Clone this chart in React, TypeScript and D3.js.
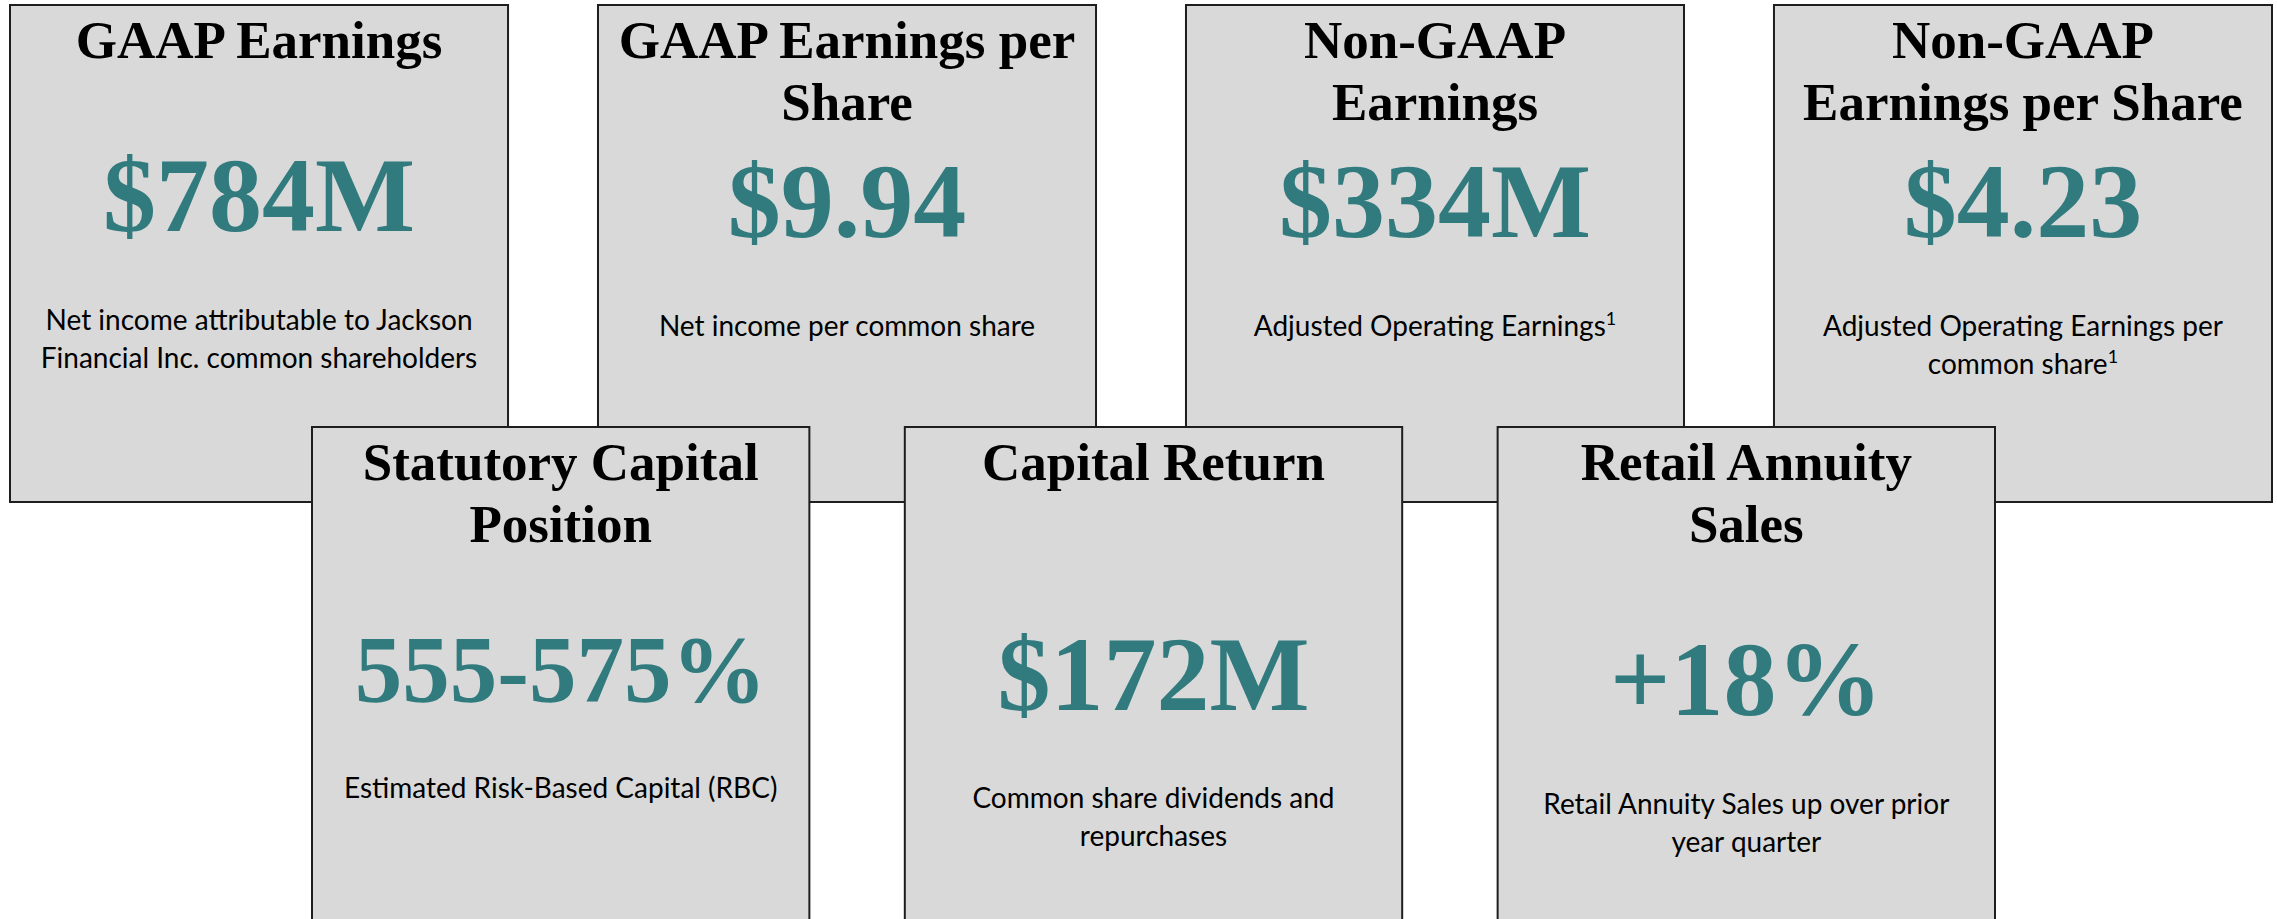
import React, { useEffect, useRef } from 'react'
import * as d3 from 'd3'

// top row
const topTitles = [
  ['GAAP Earnings'],
  ['GAAP Earnings per', 'Share'],
  ['Non-GAAP', 'Earnings'],
  ['Non-GAAP', 'Earnings per Share'],
]
const topValues = ['$784M', '$9.94', '$334M', '$4.23']
const topNotes = [
  ['Net income attributable to Jackson', 'Financial Inc. common shareholders'],
  ['Net income per common share'],
  ['Adjusted Operating Earnings¹'],
  ['Adjusted Operating Earnings per', 'common share¹'],
]

// bottom row
const bottomTitles = [
  ['Statutory Capital', 'Position'],
  ['Capital Return'],
  ['Retail Annuity', 'Sales'],
]
const bottomValues = ['555-575%', '$172M', '+18%']
const bottomNotes = [
  ['Estimated Risk-Based Capital (RBC)'],
  ['Common share dividends and', 'repurchases'],
  ['Retail Annuity Sales up over prior', 'year quarter'],
]

const W = 2277
const H = 919
const FILL = '#d9d9d9'
const STROKE = '#1e1e1e'
const TEAL = '#317b7e'
const SERIF = '"Liberation Serif", "Times New Roman", serif'
const SANS = 'Lato, "Open Sans", sans-serif'

// vertical offsets (from box top) per card
const topLayout = [
  { value: 226, note: 325, valueSize: 106 },
  { value: 232, note: 331, valueSize: 106 },
  { value: 232, note: 331, valueSize: 106 },
  { value: 232, note: 331, valueSize: 106 },
]
const bottomLayout = [
  { value: 275, note: 371, valueSize: 95 },
  { value: 283, note: 381, valueSize: 106 },
  { value: 288, note: 387, valueSize: 106 },
]

interface Card {
  id: string
  title: string[]
  value: string
  note: string[]
  layout: { value: number; note: number; valueSize: number }
}

export default function App() {
  const svgRef = useRef<SVGSVGElement>(null)

  useEffect(() => {
    if (!svgRef.current) return
    const svg = d3.select(svgRef.current)
    svg.selectAll('*').remove()

    const topCards: Card[] = topValues.map((v, i) => ({
      id: 't' + i, title: topTitles[i], value: v, note: topNotes[i], layout: topLayout[i],
    }))
    const bottomCards: Card[] = bottomValues.map((v, i) => ({
      id: 'b' + i, title: bottomTitles[i], value: v, note: bottomNotes[i], layout: bottomLayout[i],
    }))

    const xTop = d3.scaleBand<string>()
      .domain(topCards.map((d) => d.id))
      .range([10, 2272])
      .paddingInner(0.153)
    const xBottom = d3.scaleBand<string>()
      .domain(bottomCards.map((d) => d.id))
      .range([312, 1995])
      .paddingInner(0.161)

    const drawRow = (cards: Card[], x: d3.ScaleBand<string>, top: number, bottom: number) => {
      const g = svg.append('g')
      const card = g.selectAll('g.card')
        .data(cards)
        .join('g')
        .attr('class', 'card')
        .attr('transform', (d) => `translate(${x(d.id)},${top})`)

      card.append('rect')
        .attr('width', x.bandwidth())
        .attr('height', bottom - top)
        .attr('fill', FILL)
        .attr('stroke', STROKE)
        .attr('stroke-width', 2)

      const cx = x.bandwidth() / 2

      card.each(function (d) {
        const c = d3.select(this)
        d.title.forEach((line, i) => {
          c.append('text')
            .attr('x', cx)
            .attr('y', 53 + i * 62)
            .attr('text-anchor', 'middle')
            .attr('font-family', SERIF)
            .attr('font-weight', 'bold')
            .attr('font-size', 53)
            .attr('fill', '#000')
            .text(line)
        })

        c.append('text')
          .attr('x', cx)
          .attr('y', d.layout.value)
          .attr('text-anchor', 'middle')
          .attr('font-family', SERIF)
          .attr('font-weight', 'bold')
          .attr('font-size', d.layout.valueSize)
          .attr('fill', TEAL)
          .text(d.value)

        d.note.forEach((line, i) => {
          const t = c.append('text')
            .attr('x', cx)
            .attr('y', d.layout.note + i * 37.5)
            .attr('text-anchor', 'middle')
            .attr('font-family', SANS)
            .attr('font-size', 28)
            .attr('fill', '#000')
          if (line.endsWith('¹')) {
            t.append('tspan').text(line.slice(0, -1))
            t.append('tspan')
              .attr('font-size', 18)
              .attr('dy', -11)
              .text('1')
          } else {
            t.text(line)
          }
        })
      })
    }

    drawRow(topCards, xTop, 5, 502)
    drawRow(bottomCards, xBottom, 427, H + 20)
  }, [])

  return (
    <div style={{ position: 'absolute', left: 0, top: 0, width: W, height: H, background: '#fff' }}>
      <svg ref={svgRef} width={W} height={H} style={{ display: 'block' }} />
    </div>
  )
}
